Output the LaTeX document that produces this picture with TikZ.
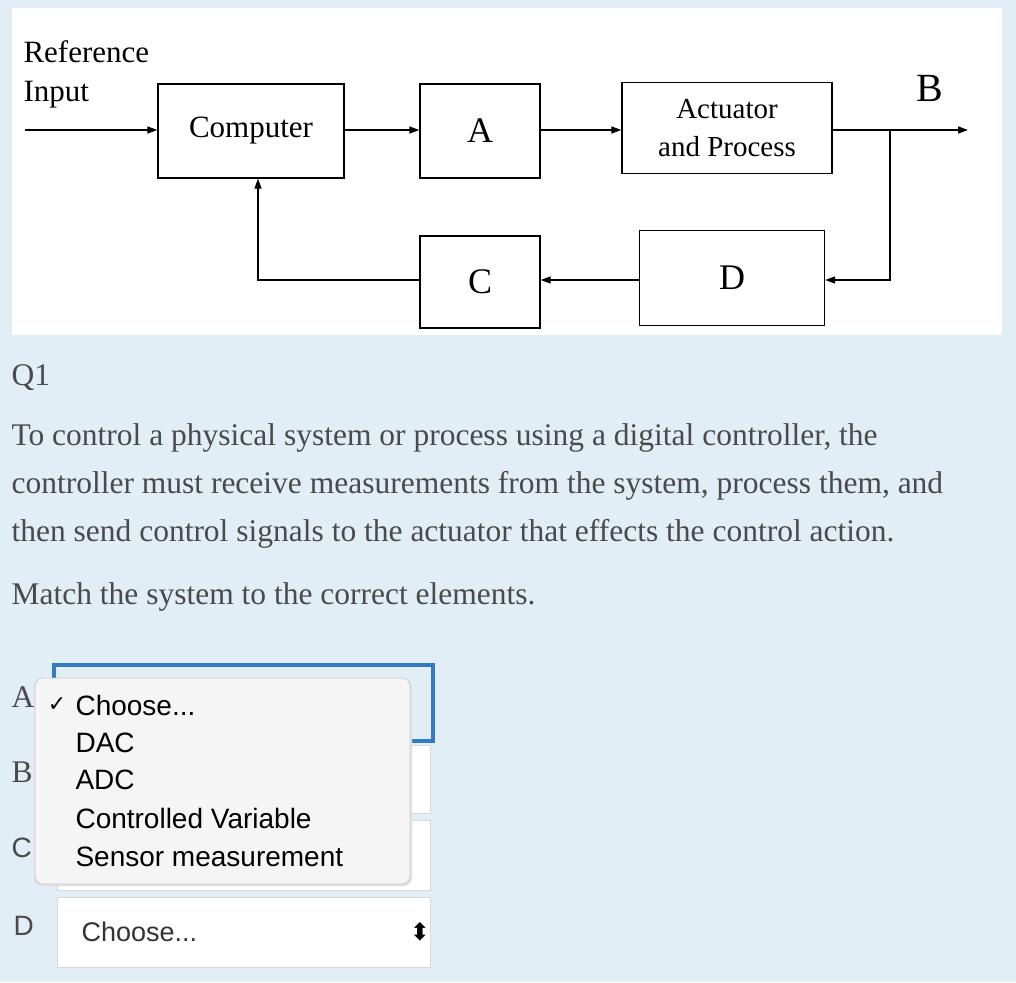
\documentclass[tikz,border=0pt]{standalone}
\usepackage{fontspec}
\setmainfont{Liberation Serif}
\setsansfont{Liberation Sans}
\newfontfamily\dejavu{DejaVu Sans}
\usetikzlibrary{arrows.meta,shadows}
\definecolor{bgc}{HTML}{E2EEF6}
\definecolor{txt}{HTML}{4A4A4A}
\tikzset{
 blk/.style={draw,line width=1.3pt,fill=white,font=\fontsize{31}{33}\selectfont},
 sig/.style={line width=1.3pt,-{Triangle[length=10pt,width=7pt]}},
 para/.style={anchor=west,text=txt,font=\fontsize{31.5}{33}\selectfont},
 sel/.style={draw=black!15,fill=white,line width=1pt},
 item/.style={anchor=west,font=\sffamily\fontsize{28}{30}\selectfont}
}
\begin{document}
\begin{tikzpicture}[x=1pt,y=-1pt]
\fill[bgc] (0,0) rectangle (1016,982);
\useasboundingbox (0,0) rectangle (1016,982);
\fill[white] (12,8) rectangle (1002,335);
% diagram
\node[anchor=west,font=\fontsize{31}{33}\selectfont] (ref) at (20,52) {Reference};
\node[anchor=west,font=\fontsize{31}{33}\selectfont] (inp) at (20,95) {Input};
\node[blk,minimum width=186pt,minimum height=94pt] (comp) at (251,131) {Computer};
\node[blk,minimum width=120pt,minimum height=94pt,font=\fontsize{36}{38}\selectfont] (A) at (480,131) {A};
\node[blk,minimum width=210pt,minimum height=91pt,align=center,font=\fontsize{29}{38}\selectfont] (act) at (727,128) {Actuator\\and Process};
\node[blk,minimum width=185pt,minimum height=95pt,font=\fontsize{36}{38}\selectfont] (D) at (732,278) {D};
\node[blk,minimum width=120pt,minimum height=92pt,font=\fontsize{36}{38}\selectfont] (C) at (480,282) {C};
\node[font=\fontsize{40}{42}\selectfont] (B) at (930,88) {B};
\coordinate (in0) at (25,130);
\coordinate (out) at (968,130);
\coordinate (br) at (890,130);
\coordinate (br2) at (890,280);
\coordinate (fb) at (258,280);
\draw[sig] (in0) -- (comp.west|-in0);
\draw[sig] (comp.east|-in0) -- (A.west|-in0);
\draw[sig] (A.east|-in0) -- (act.west|-in0);
\draw[sig] (act.east|-in0) -- (out);
\draw[sig] (br) -- (br2) -- (D.east|-br2);
\draw[sig] (D.west|-br2) -- (C.east|-br2);
\draw[sig] (C.west|-br2) -- (fb) -- (fb|-comp.south);
% question text
\node[para] (q1) at (8,378) {Q1};
\node[para] (p1) at (8,438) {To control a physical system or process using a digital controller, the};
\node[para] (p2) at (8,486) {controller must receive measurements from the system, process them, and};
\node[para] (p3) at (8,534) {then send control signals to the actuator that effects the control action.};
\node[para] (p4) at (8,597) {Match the system to the correct elements.};
% selects
\draw[sel] (57,745) rectangle (430,813);
\draw[sel] (57,820) rectangle (430,890);
\draw[sel] (57,897) rectangle (430,967);
\draw[draw=blue!50!cyan!70!black!80,line width=4pt] (54,665) rectangle (433,741);
\node[para,text=txt] (la) at (8,697) {A};
\node[para,text=txt] (lb) at (8,772) {B};
\node[item,text=txt] (lc) at (8,848) {C};
\node[item,text=txt] (ld) at (10,926) {D};
\node[item,text=black!80,font=\sffamily\fontsize{27}{29}\selectfont] (dch) at (78,932) {Choose...};
\node[font=\dejavu\fontsize{24}{24}\selectfont] (ud) at (420,932) {⬍};
% popup
\fill[black!12,rounded corners=8pt] (34,679) rectangle (412,886);
\draw[black!20,fill=black!4,rounded corners=8pt,line width=0.8pt] (35,678) rectangle (410,884);
\node[font=\dejavu\fontsize{22}{22}\selectfont] (chk) at (57,705) {✓};
\node[item] (i1) at (72,705) {Choose...};
\node[item] (i2) at (72,743) {DAC};
\node[item] (i3) at (72,780) {ADC};
\node[item] (i4) at (72,818) {Controlled Variable};
\node[item] (i5) at (72,857) {Sensor measurement};
\end{tikzpicture}
\end{document}
